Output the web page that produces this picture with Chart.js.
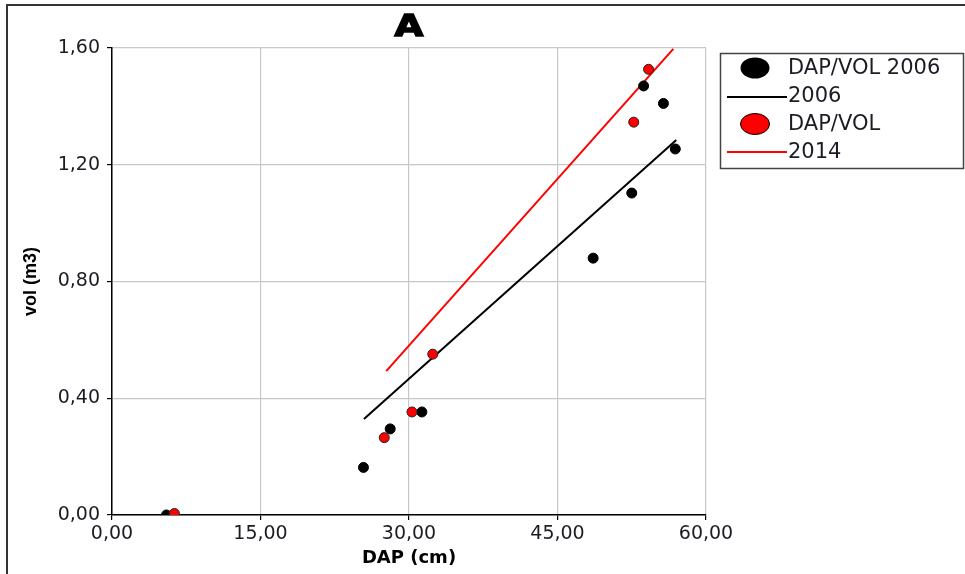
<!DOCTYPE html>
<html>
<head>
<meta charset="utf-8">
<script src="https://cdn.jsdelivr.net/npm/chart.js@4/dist/chart.umd.min.js"></script>
<style>
  html, body { margin: 0; padding: 0; background: #fff; }
  #graph { display: block; }
</style>
</head>
<body>
<canvas id="graph" width="965" height="574"></canvas>
<script>
// DAP (cm) vs volume (m3), 2006 and 2014 measurements
const dap2006 = [5.5, 25.4, 28.1, 31.3, 48.6, 52.5, 53.7, 55.7, 56.9];
const vol2006 = [0.00, 0.163, 0.295, 0.353, 0.88, 1.103, 1.47, 1.41, 1.254];
const dap2014 = [6.3, 27.5, 30.3, 32.4, 52.7, 54.2];
const vol2014 = [0.005, 0.265, 0.353, 0.551, 1.346, 1.527];

// fitted lines (end points)
const fitX2006 = [25.45, 57.0];
const fitY2006 = [0.329, 1.285];
const fitX2014 = [27.7, 56.7];
const fitY2014 = [0.493, 1.597];

const xTicks = [0, 15, 30, 45, 60];
const yTicks = [0, 0.4, 0.8, 1.2, 1.6];

const legendItems = ['DAP/VOL 2006', '2006', 'DAP/VOL', '2014'];

const WIDE = '"DejaVu Sans", Verdana, sans-serif';
const NARROW = '"Liberation Sans", Arial, sans-serif';

function toPoints(xs, ys) {
  return xs.map((x, i) => ({x: x, y: ys[i]}));
}
function comma(v, d) {
  return v.toFixed(d).replace('.', ',');
}

const canvas = document.getElementById('graph');
const ctx = canvas.getContext('2d');

// frame, big "A" and the boxed legend
const decor = {
  id: 'decor',
  afterDraw(chart) {
    const c = chart.ctx;
    const area = chart.chartArea;
    c.save();
    c.strokeStyle = '#333';
    c.lineWidth = 2;
    c.beginPath();
    c.moveTo(7, 574);
    c.lineTo(7, 5);
    c.lineTo(965, 5);
    c.stroke();

    // heavy, slightly widened title letter
    c.save();
    c.translate((area.left + area.right) / 2, 28);
    c.scale(1.2, 1);
    c.fillStyle = '#000';
    c.strokeStyle = '#000';
    c.lineWidth = 1.5;
    c.font = 'bold 31px ' + WIDE;
    c.textAlign = 'center';
    c.textBaseline = 'middle';
    c.fillText('A', 0, 0);
    c.strokeText('A', 0, 0);
    c.restore();

    // legend
    c.strokeStyle = '#444';
    c.lineWidth = 1.5;
    c.strokeRect(720.5, 53.5, 243, 115);
    c.lineWidth = 1;
    c.strokeStyle = '#000';
    c.fillStyle = '#000';
    c.beginPath();
    c.ellipse(755, 68, 14.5, 10.5, 0, 0, Math.PI * 2);
    c.fill();
    c.fillStyle = '#ff0000';
    c.beginPath();
    c.ellipse(755, 124, 14.5, 10.5, 0, 0, Math.PI * 2);
    c.fill();
    c.stroke();
    c.lineWidth = 2;
    c.strokeStyle = '#000';
    c.beginPath(); c.moveTo(727, 97); c.lineTo(787, 97); c.stroke();
    c.strokeStyle = '#ff0000';
    c.beginPath(); c.moveTo(727, 152); c.lineTo(787, 152); c.stroke();

    c.fillStyle = '#1c1c24';
    c.font = '21px ' + WIDE;
    c.textAlign = 'left';
    c.textBaseline = 'middle';
    const ys = [69, 97, 125, 153];
    legendItems.forEach((t, i) => c.fillText(t, 788, ys[i]));
    c.restore();
  }
};

new Chart(ctx, {
  type: 'scatter',
  data: {
    datasets: [
      {
        label: 'DAP/VOL 2006',
        data: toPoints(dap2006, vol2006),
        backgroundColor: '#000',
        borderColor: '#000',
        pointRadius: 5,
        borderWidth: 1,
        order: 1
      },
      {
        label: '2006',
        type: 'line',
        data: toPoints(fitX2006, fitY2006),
        borderColor: '#000',
        borderWidth: 2,
        pointRadius: 0,
        fill: false,
        order: 3
      },
      {
        label: 'DAP/VOL',
        data: toPoints(dap2014, vol2014),
        backgroundColor: '#ff0000',
        borderColor: '#222',
        pointRadius: 5,
        borderWidth: 1,
        order: 0
      },
      {
        label: '2014',
        type: 'line',
        data: toPoints(fitX2014, fitY2014),
        borderColor: '#ff0000',
        borderWidth: 2,
        pointRadius: 0,
        fill: false,
        order: 2
      }
    ]
  },
  options: {
    responsive: false,
    animation: false,
    layout: {padding: {left: 7, top: 48, right: 259, bottom: 0}},
    plugins: {
      legend: {display: false},
      tooltip: {enabled: false}
    },
    scales: {
      x: {
        type: 'linear',
        min: 0, max: 60,
        afterBuildTicks: s => { s.ticks = xTicks.map(v => ({value: v})); },
        afterFit: s => { s.height = 59; },
        ticks: {
          padding: 3,
          color: '#1c1c24',
          font: {family: WIDE, size: 19},
          callback: v => comma(v, 2)
        },
        grid: {color: '#c8c8c8', lineWidth: 1.2, tickColor: '#000', tickLength: 5},
        border: {color: '#000', width: 1.5},
        title: {
          display: true,
          text: 'DAP (cm)',
          color: '#000',
          font: {family: WIDE, size: 18, weight: 'bold'},
          padding: {top: 0, bottom: 5}
        }
      },
      y: {
        type: 'linear',
        min: 0, max: 1.6,
        afterBuildTicks: s => { s.ticks = yTicks.map(v => ({value: v})); },
        afterFit: s => { s.width = 105; },
        ticks: {
          padding: 7,
          color: '#1c1c24',
          font: {family: WIDE, size: 19},
          callback: v => comma(v, 2)
        },
        grid: {color: '#c8c8c8', lineWidth: 1.2, tickColor: '#000', tickLength: 5},
        border: {color: '#000', width: 1.5},
        title: {
          display: true,
          text: 'vol (m3)',
          color: '#000',
          font: {family: NARROW, size: 18, weight: 'bold'},
          padding: {top: 13, bottom: 0}
        }
      }
    }
  },
  plugins: [decor]
});
</script>
</body>
</html>
